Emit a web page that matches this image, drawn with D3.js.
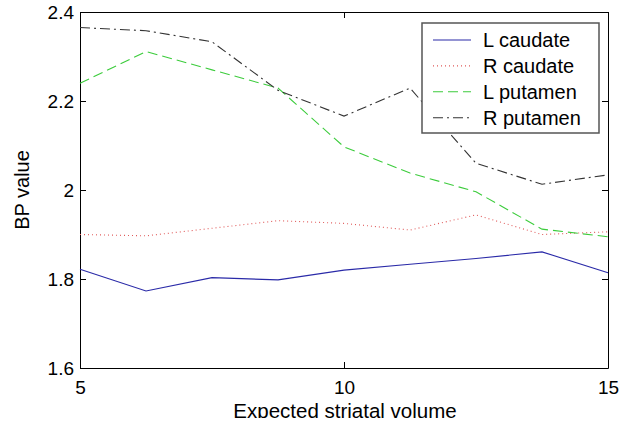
<!DOCTYPE html>
<html>
<head>
<meta charset="utf-8">
<script src="https://cdn.jsdelivr.net/npm/d3@7"></script>
<style>
  body { margin: 0; background: #fff; }
  svg text { font-family: "Liberation Sans", Arial, sans-serif; fill: #000; }
</style>
</head>
<body>
<div class="chart"></div>
<script>
// expected striatal volume (x) and BP value per region
var volume = [5, 6.25, 7.5, 8.75, 10, 11.25, 12.5, 13.75, 15];
var lCaudate = [1.822, 1.773, 1.803, 1.798, 1.820, 1.833, 1.846, 1.861, 1.814];
var rCaudate = [1.900, 1.897, 1.914, 1.931, 1.925, 1.910, 1.944, 1.900, 1.906];
var lPutamen = [2.240, 2.311, 2.270, 2.229, 2.097, 2.038, 1.996, 1.912, 1.895];
var rPutamen = [2.365, 2.358, 2.333, 2.224, 2.166, 2.229, 2.060, 2.013, 2.034];
var seriesNames = ['L caudate', 'R caudate', 'L putamen', 'R putamen'];
var xTicks = [5, 10, 15];
var yTicks = [1.6, 1.8, 2.0, 2.2, 2.4];

window.onload = function () {
    var width = 629, height = 426;
    var left = 80, top = 12, right = 608, bottom = 368;

    var svg = d3.select('.chart')
        .append('svg')
        .attr('width', width)
        .attr('height', height);

    var x = d3.scaleLinear().domain([5, 15]).range([left, right]);
    var y = d3.scaleLinear().domain([1.6, 2.4]).range([bottom, top]);

    var series = [
        { name: seriesNames[0], values: lCaudate, color: '#2a2aa8', dash: null },
        { name: seriesNames[1], values: rCaudate, color: '#e05a5a', dash: '1,3' },
        { name: seriesNames[2], values: lPutamen, color: '#3ccc3c', dash: '10,5' },
        { name: seriesNames[3], values: rPutamen, color: '#333', dash: '10,4,2,4' }
    ];

    var fmt = function (d) { return d === 2 ? '2' : d3.format('.1f')(d); };

    // axes with inward ticks, MATLAB style box
    svg.append('g')
        .attr('transform', 'translate(0,' + bottom + ')')
        .call(d3.axisBottom(x).tickValues(xTicks).tickSizeInner(-6).tickSizeOuter(0).tickPadding(13).tickFormat(d3.format('d')))
        .call(styleAxis);
    svg.append('g')
        .attr('transform', 'translate(0,' + top + ')')
        .call(d3.axisTop(x).tickValues(xTicks).tickSizeInner(-6).tickSizeOuter(0).tickFormat(''))
        .call(styleAxis);
    svg.append('g')
        .attr('transform', 'translate(' + left + ',0)')
        .call(d3.axisLeft(y).tickValues(yTicks).tickSizeInner(-6).tickSizeOuter(0).tickPadding(6).tickFormat(fmt))
        .call(styleAxis);
    svg.append('g')
        .attr('transform', 'translate(' + right + ',0)')
        .call(d3.axisRight(y).tickValues(yTicks).tickSizeInner(-6).tickSizeOuter(0).tickFormat(''))
        .call(styleAxis);

    function styleAxis(g) {
        g.select('.domain').attr('stroke', '#000').attr('stroke-width', 1);
        g.selectAll('.tick line').attr('stroke', '#000');
        g.selectAll('.tick text').attr('font-size', '19px').attr('fill', '#000');
        g.attr('font-family', null).attr('font-size', null);
    }

    var line = d3.line()
        .x(function (d, i) { return x(volume[i]); })
        .y(function (d) { return y(d); });

    svg.selectAll('.series').data(series).enter()
        .append('path')
        .attr('class', 'series')
        .attr('d', function (d) { return line(d.values); })
        .attr('fill', 'none')
        .attr('stroke', function (d) { return d.color; })
        .attr('stroke-width', 1.1)
        .attr('stroke-dasharray', function (d) { return d.dash; });

    // axis titles (x title is cut off at the bottom in the original)
    svg.append('clipPath').attr('id', 'xclip')
        .append('rect').attr('x', 0).attr('y', 0).attr('width', width).attr('height', 418);
    svg.append('text')
        .attr('x', 345)
        .attr('y', 418)
        .attr('clip-path', 'url(#xclip)')
        .attr('text-anchor', 'middle')
        .attr('font-size', '20.5px')
        .text('Expected striatal volume');
    svg.append('text')
        .attr('transform', 'translate(29,190) rotate(-90)')
        .attr('text-anchor', 'middle')
        .attr('font-size', '20px')
        .text('BP value');

    // legend
    var legend = svg.append('g');
    legend.append('rect')
        .attr('x', 422)
        .attr('y', 23)
        .attr('width', 177)
        .attr('height', 110)
        .attr('fill', '#fff')
        .attr('stroke', '#555')
        .attr('stroke-width', 1.5);
    var item = legend.selectAll('.item').data(series).enter()
        .append('g')
        .attr('class', 'item')
        .attr('transform', function (d, i) { return 'translate(0,' + (40 + i * 25.9) + ')'; });
    item.append('line')
        .attr('x1', 433).attr('x2', 471)
        .attr('y1', 0).attr('y2', 0)
        .attr('stroke', function (d) { return d.color; })
        .attr('stroke-width', 1.1)
        .attr('stroke-dasharray', function (d) { return d.dash; });
    item.append('text')
        .attr('x', 483)
        .attr('dy', '0.35em')
        .attr('font-size', '20px')
        .text(function (d) { return d.name; });
};
</script>
</body>
</html>
